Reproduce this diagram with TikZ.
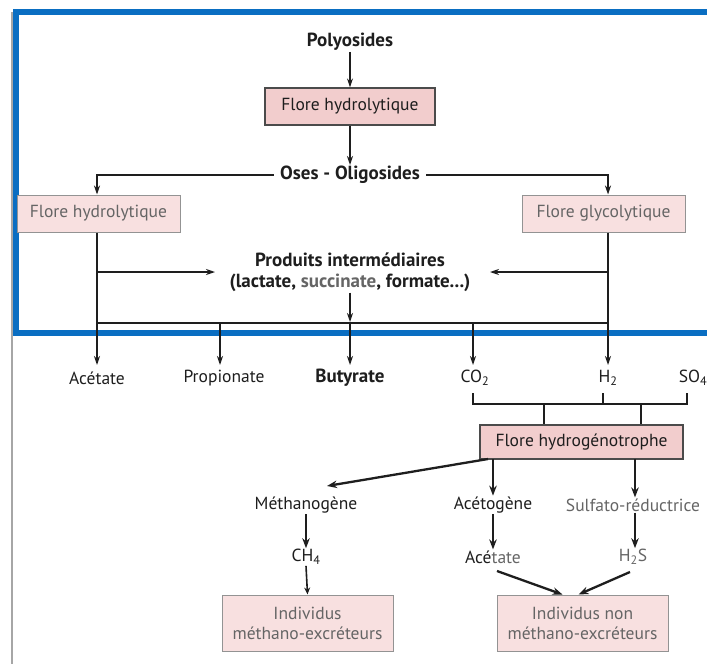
\documentclass[tikz,border=0pt]{standalone}
\usepackage{fontspec}
\setmainfont{PT Sans}
\usetikzlibrary{arrows.meta}
\definecolor{blueframe}{HTML}{0A6EC2}
\definecolor{pinkA}{HTML}{F2CDCD}
\definecolor{pinkB}{HTML}{F8E0E0}
\definecolor{txtgrey}{HTML}{656565}
\definecolor{ink}{HTML}{1E1E1E}
\newcommand{\bfsz}{\fontsize{19}{21}\selectfont\bfseries}
\begin{document}
\begin{tikzpicture}[x=1pt,y=-1pt,
  font=\fontsize{17.5}{20}\selectfont,
  ln/.style={draw=ink,line width=1.3pt},
  arr/.style={ln,-{Stealth[length=9pt,width=6pt]}},
  barr/.style={draw=ink,line width=2.3pt,-{Stealth[length=10pt,width=7.5pt]}},
  darkbox/.style={draw=ink!80,line width=1.2pt,fill=pinkA,text=ink,inner sep=0pt},
  lightbox/.style={draw=txtgrey!70,line width=1pt,fill=pinkB,text=txtgrey,inner sep=0pt,align=center},
  lbl/.style={text=ink,inner sep=1pt},
  glbl/.style={text=txtgrey,inner sep=1pt},
]
\useasboundingbox (0,0) rectangle (707,664);
\clip (0,0) rectangle (707,664);
\fill[white] (0,0) rectangle (707,664);
% page edge and blue frame
\draw[black!35,line width=2pt] (12,12) -- (12,664);
\draw[blueframe,line width=6pt] (720,12) -- (15.5,12) -- (15.5,333) -- (720,333);

% helper coordinates
\coordinate (L) at (97,0);
\coordinate (R) at (608,0);
\coordinate (bar) at (0,323);

% top part
\node[lbl,font=\bfsz] (poly) at (350,42) {Polyosides};
\node[darkbox,minimum width=170,minimum height=37] (fh) at (350,106.5) {Flore hydrolytique};
\node[lbl,font=\bfsz,inner xsep=6pt] (oses) at (350,175) {Oses - Oligosides};
\draw[arr] (poly) -- (fh);
\draw[arr] (fh) -- (oses);

\node[lightbox,minimum width=163,minimum height=37] (fhl) at (98.5,213.5) {Flore hydrolytique};
\node[lightbox,minimum width=163,minimum height=37] (fgr) at (603.5,213.5) {Flore glycolytique};
\draw[arr] (oses.west) -| (fhl.north -| L);
\draw[arr] (oses.east) -| (fgr.north -| R);

\node[lbl,font=\bfsz,align=center] (pi) at (350,272)
  {Produits intermédiaires\\(lactate, \textcolor{txtgrey}{succinate}, formate...)};
\coordinate (pil) at (215,272);
\coordinate (pir) at (490,272);
\draw[ln] (fhl.south -| L) -- (L |- bar);
\draw[ln] (fgr.south -| R) -- (R |- bar);
\draw[arr] (L |- pil) -- (pil);
\draw[arr] (R |- pir) -- (pir);
\draw[arr] (pi.south) -- ([yshift=1pt]pi.south |- bar);
\draw[ln] (L |- bar) -- (R |- bar);

% products row
\node[lbl] (ac1) at (97,378) {Acétate};
\node[lbl] (prop) at (224,378) {Propionate};
\node[lbl,font=\bfsz] (buty) at (350,378) {Butyrate};
\node[lbl] (co2) at (475,378) {CO\textsubscript{2}};
\node[lbl] (h2) at (608,378) {H\textsubscript{2}};
\node[lbl] (so4) at (693,378) {SO\textsubscript{4}};
\coordinate (x1) at (97,365);
\coordinate (x2) at (220,365);
\coordinate (x3) at (350,365);
\coordinate (x4) at (473,365);
\coordinate (x5) at (608,365);
\foreach \c in {x1,x2,x3,x4,x5}
  \draw[arr] (\c |- bar) -- (\c);

% bracket
\coordinate (t1) at (473,393);
\coordinate (t2) at (603,393);
\coordinate (t3) at (687,393);
\coordinate (b1) at (473,404);
\coordinate (b2) at (603,404);
\coordinate (b3) at (687,404);
\draw[ln] (t1) -- (b1) -- (b3) -- (t3);
\draw[ln] (t2) -- (b2);

\node[darkbox,minimum width=203,minimum height=34] (hy) at (581.5,442) {Flore hydrogénotrophe};
\coordinate (c1) at (544,404);
\coordinate (c2) at (641,404);
\draw[ln] (c1) -- (c1 |- hy.north);
\draw[ln] (c2) -- (c2 |- hy.north);

% lower part
\node[lbl] (meth) at (306,505) {Méthanogène};
\node[lbl] (aceg) at (493,505) {Acétogène};
\node[glbl] (sulf) at (633,505) {Sulfato-réductrice};
\coordinate (mtip) at (327,486);
\coordinate (hs1) at (488,459);
\coordinate (hs2) at (493,459);
\coordinate (hs3) at (635,459);
\draw[barr] (hs1) -- (mtip);
\draw[barr] (hs2) -- (hs2 |- aceg.north);
\draw[barr] (hs3) -- (hs3 |- sulf.north);

\node[lbl] (ch4) at (306,557) {CH\textsubscript{4}};
\node[lbl] (ac2) at (493,557) {Acé\textcolor{txtgrey}{tate}};
\node[glbl] (h2s) at (633,557) {H\textsubscript{2}S};
\draw[barr] (meth.south) -- (ch4.north);
\draw[barr] (aceg.south) -- (ac2.north);
\draw[barr] (hs3 |- sulf.south) -- (hs3 |- h2s.north);

\node[lightbox,minimum width=171,minimum height=56] (ind1) at (307.5,623) {Individus\\méthano-excréteurs};
\node[lightbox,minimum width=171,minimum height=56] (ind2) at (582.5,623) {Individus non\\méthano-excréteurs};
\draw[ln,line width=1.6pt,-{Stealth[length=7pt,width=6pt]}] (ch4.south) -- (ind1.north);
\coordinate (a1) at (497,571);
\coordinate (a2) at (630,572);
\draw[barr] (a1) -- ([xshift=-20pt]ind2.north);
\draw[barr] (a2) -- ([xshift=-4pt]ind2.north);
\end{tikzpicture}
\end{document}
